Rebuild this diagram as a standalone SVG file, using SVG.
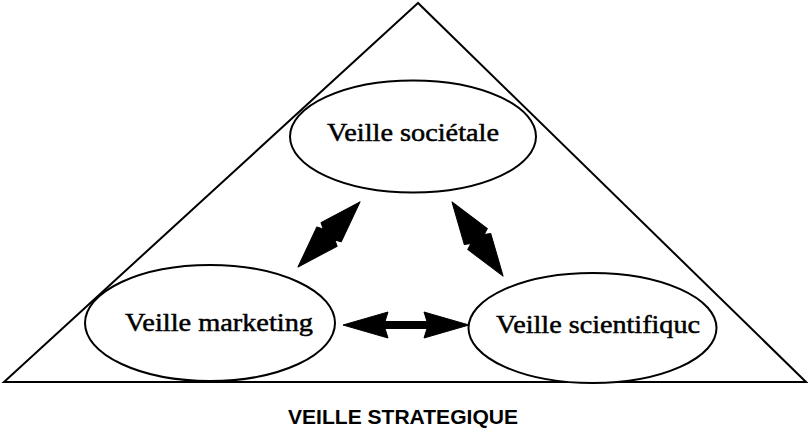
<svg xmlns="http://www.w3.org/2000/svg" width="808" height="435" viewBox="0 0 808 435">
  <style>
    .frame { fill: none; stroke: #000; stroke-width: 2; stroke-linejoin: miter; }
    .node { fill: #fff; stroke: #000; stroke-width: 2; }
    .lbl { font-family: "Liberation Serif", "Times New Roman", serif; font-size: 26px; fill: #000; stroke: #000; stroke-width: 0.5; text-anchor: middle; }
    .title { font-family: "Liberation Sans", Arial, sans-serif; font-weight: bold; font-size: 20px; fill: #000; text-anchor: middle; }
    .arrow { fill: #000; stroke: #000; stroke-width: 1; stroke-linejoin: round; }
  </style>
  <defs>
    <path id="diagArrow" class="arrow" d="M0,0 L42,-14 L45,-8 L48,-14 L90,0 L48,14 L45,8 L42,14 Z"/>
    <path id="horizArrow" class="arrow" d="M0,0 L45,-13 L42,-3.5 L84,-3.5 L81,-13 L126,0 L81,13 L84,3.5 L42,3.5 L45,13 Z"/>
  </defs>
  <rect width="808" height="435" fill="#fff"/>
  <g id="triangle">
    <polygon class="frame" points="418,3 4,382 806,382"/>
  </g>
  <g id="node-societale">
    <ellipse class="node" cx="413" cy="136.5" rx="123" ry="56"/>
    <text class="lbl" x="413" y="141" textLength="172" lengthAdjust="spacingAndGlyphs">Veille sociétale</text>
  </g>
  <g id="node-marketing">
    <ellipse class="node" cx="210" cy="323" rx="125" ry="58"/>
    <text class="lbl" x="219" y="331" textLength="188" lengthAdjust="spacingAndGlyphs">Veille marketing</text>
  </g>
  <g id="node-scientifique">
    <ellipse class="node" cx="592.5" cy="328" rx="124" ry="55"/>
    <text class="lbl" x="598" y="333" textLength="204" lengthAdjust="spacingAndGlyphs">Veille scientifiquc</text>
  </g>
  <g id="connectors">
    <use href="#diagArrow" transform="translate(298,267) rotate(-46.4)"/>
    <use href="#diagArrow" transform="translate(452,202) rotate(55.4)"/>
    <use href="#horizArrow" transform="translate(343,325)"/>
  </g>
  <g id="caption">
    <text class="title" x="403" y="424" textLength="230" lengthAdjust="spacingAndGlyphs">VEILLE STRATEGIQUE</text>
  </g>
</svg>
